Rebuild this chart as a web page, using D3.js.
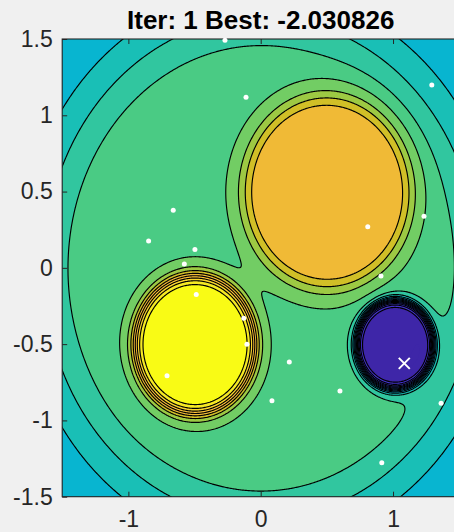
<!DOCTYPE html>
<html>
<head>
<meta charset="utf-8">
<script src="https://cdn.jsdelivr.net/npm/d3@7"></script>
<style>
  html, body { margin: 0; padding: 0; background: #f0f0f0; overflow: hidden; }
  svg { display: block; }
  text { font-family: "Liberation Sans", Arial, Helvetica, sans-serif; }
</style>
</head>
<body>
<svg id="chart" width="454" height="532"></svg>
<script>
// ---- iteration state ----
const iteration = 1;
const bestValue = -2.030826;
const bestPoint = [1.085, -0.626];

// population positions (white dots)
const popX = [-0.270, -0.111, 1.293, -0.661, -0.847, -0.497, -0.577, -0.487, 0.809, 1.234,
              0.909, -0.128, -0.104, -0.708, 0.216, 0.085, 0.599, 1.363, 0.915];
const popY = [1.491, 1.119, 1.198, 0.377, 0.176, 0.121, 0.025, -0.174, 0.269, 0.339,
              -0.054, -0.331, -0.501, -0.707, -0.617, -0.871, -0.808, -0.888, -1.277];

// objective landscape: a flat bowl plus three plateau wells (yellow, orange, blue)
const bowlLow = -0.3, bowlRise = 0.6, bowlRadius = 1.645, bowlWidth = 0.115;
const wellX = [-0.5, 0.5, 1.01];
const wellY = [-0.5, 0.5, -0.5];
const coreHeight = [1.40, 0.60, -2.40];
const coreRadius = [0.450, 0.612, 0.290];
const coreWidth = [0.0286, 0.035, 0.018];
const skirtHeight = [0.33, 0.25, -0.08];
const skirtRadius = [0.50, 0.744, 0.38];
const skirtWidth = [0.07, 0.045, 0.05];

// contour levels and colour limits
const levels = [-2.2, -2.0, -1.8, -1.6, -1.4, -1.2, -1.0, -0.8, -0.6, -0.4, -0.2,
                0.0, 0.2, 0.4, 0.6, 0.8, 1.0, 1.2, 1.4, 1.6, 1.8];
const cLim = [-2.2, 1.8];

// axis ticks
const xTicks = [-1, 0, 1];
const xTickLabels = ["-1", "0", "1"];
const yTicks = [-1.5, -1, -0.5, 0, 0.5, 1, 1.5];
const yTickLabels = ["-1.5", "-1", "-0.5", "0", "0.5", "1", "1.5"];

// parula colormap, 64 entries
const parula = [
[0.2422,0.1504,0.6603],[0.2504,0.1650,0.7076],[0.2578,0.1818,0.7511],[0.2647,0.1978,0.7952],
[0.2706,0.2147,0.8364],[0.2751,0.2342,0.8710],[0.2783,0.2559,0.8991],[0.2803,0.2782,0.9221],
[0.2813,0.3006,0.9414],[0.2810,0.3228,0.9579],[0.2795,0.3447,0.9717],[0.2760,0.3667,0.9829],
[0.2699,0.3892,0.9906],[0.2602,0.4123,0.9952],[0.2440,0.4358,0.9988],[0.2206,0.4603,0.9973],
[0.1963,0.4847,0.9892],[0.1834,0.5074,0.9798],[0.1786,0.5289,0.9682],[0.1764,0.5499,0.9520],
[0.1687,0.5703,0.9359],[0.1540,0.5902,0.9218],[0.1460,0.6091,0.9079],[0.1380,0.6276,0.8973],
[0.1248,0.6459,0.8883],[0.1113,0.6635,0.8763],[0.0952,0.6798,0.8598],[0.0689,0.6948,0.8394],
[0.0297,0.7082,0.8163],[0.0036,0.7203,0.7917],[0.0067,0.7312,0.7660],[0.0433,0.7411,0.7394],
[0.0964,0.7500,0.7120],[0.1408,0.7584,0.6842],[0.1717,0.7670,0.6554],[0.1938,0.7758,0.6251],
[0.2161,0.7843,0.5923],[0.2470,0.7918,0.5567],[0.2906,0.7973,0.5188],[0.3406,0.8008,0.4789],
[0.3909,0.8029,0.4354],[0.4456,0.8024,0.3909],[0.5044,0.7993,0.3480],[0.5616,0.7942,0.3045],
[0.6174,0.7876,0.2612],[0.6720,0.7793,0.2227],[0.7242,0.7698,0.1910],[0.7738,0.7598,0.1646],
[0.8203,0.7498,0.1535],[0.8634,0.7406,0.1596],[0.9035,0.7330,0.1774],[0.9393,0.7288,0.2100],
[0.9728,0.7298,0.2394],[0.9956,0.7434,0.2371],[0.9970,0.7659,0.2199],[0.9952,0.7893,0.2028],
[0.9892,0.8136,0.1885],[0.9786,0.8386,0.1766],[0.9676,0.8639,0.1643],[0.9610,0.8890,0.1537],
[0.9597,0.9135,0.1423],[0.9628,0.9373,0.1265],[0.9691,0.9606,0.1064],[0.9769,0.9839,0.0805]];

function levelColor(v) {
  let k = Math.floor((v - cLim[0]) / (cLim[1] - cLim[0]) * parula.length + 1e-9);
  k = Math.max(0, Math.min(parula.length - 1, k));
  const c = parula[k];
  return d3.rgb(c[0] * 255, c[1] * 255, c[2] * 255).formatHex();
}

const logistic = (d, h, r, w) => h / (1 + Math.exp((d - r) / w));

function surface(px, py) {
  let v = bowlLow + logistic(Math.hypot(px, py), bowlRise, bowlRadius, bowlWidth);
  for (let k = 0; k < wellX.length; k++) {
    const d = Math.hypot(px - wellX[k], py - wellY[k]);
    v += logistic(d, coreHeight[k], coreRadius[k], coreWidth[k]);
    v += logistic(d, skirtHeight[k], skirtRadius[k], skirtWidth[k]);
  }
  return v;
}

// ---- layout ----
const svg = d3.select("#chart");
svg.append("rect").attr("width", 454).attr("height", 532).attr("fill", "#f0f0f0");

const x = d3.scaleLinear().domain([-1.5, 1.5]).range([62.2, 459.2]);
const y = d3.scaleLinear().domain([-1.5, 1.5]).range([496.7, 39]);
const [px0, px1] = x.range();
const [py0, py1] = [y(1.5), y(-1.5)];

// ---- sample the surface on a grid slightly wider than the axes ----
const g0 = -1.56, g1 = 1.56, nx = 430, ny = 490;
const gdx = (g1 - g0) / (nx - 1), gdy = (g1 - g0) / (ny - 1);
const values = new Float64Array(nx * ny);
for (let j = 0; j < ny; j++) {
  const gy = g1 - j * gdy;
  for (let i = 0; i < nx; i++) values[j * nx + i] = surface(g0 + i * gdx, gy);
}

const contours = d3.contours().size([nx, ny]).thresholds(levels)(values);
const proj = d3.geoTransform({
  point(cx, cy) { this.stream.point(x(g0 + cx * gdx), y(g1 - cy * gdy)); }
});
const path = d3.geoPath(proj);

svg.append("defs").append("clipPath").attr("id", "plotClip")
  .append("rect").attr("x", px0).attr("y", py0).attr("width", px1 - px0).attr("height", py1 - py0);

const plot = svg.append("g").attr("clip-path", "url(#plotClip)");
// lowest band underneath everything
plot.append("rect").attr("x", px0).attr("y", py0)
  .attr("width", px1 - px0).attr("height", py1 - py0)
  .attr("fill", levelColor(levels[0]));
plot.append("g").selectAll("path").data(contours).join("path")
  .attr("d", path)
  .attr("fill", d => levelColor(d.value))
  .attr("stroke", "none");
plot.append("g").selectAll("path").data(contours.slice(1)).join("path")
  .attr("d", path)
  .attr("fill", "none")
  .attr("stroke", "#000")
  .attr("stroke-width", 1.15)
  .attr("stroke-linejoin", "round");

// ---- axes (inward ticks on all four sides) ----
function styleAxis(g) {
  g.select(".domain").remove();
  g.attr("font-family", null).attr("font-size", null);
  g.selectAll(".tick line").attr("stroke", "#262626");
  g.selectAll(".tick text").attr("fill", "#262626").style("font-size", "23px");
}
svg.append("g").attr("transform", `translate(0,${py1})`)
  .call(d3.axisBottom(x).tickValues(xTicks).tickFormat((d, i) => xTickLabels[i])
        .tickSizeInner(-5).tickSizeOuter(0).tickPadding(14))
  .call(styleAxis);
svg.append("g").attr("transform", `translate(0,${py0})`)
  .call(d3.axisTop(x).tickValues(xTicks).tickFormat("").tickSizeInner(-5).tickSizeOuter(0))
  .call(styleAxis);
svg.append("g").attr("transform", `translate(${px0},0)`)
  .call(d3.axisLeft(y).tickValues(yTicks).tickFormat((d, i) => yTickLabels[i])
        .tickSizeInner(-5).tickSizeOuter(0).tickPadding(9.5))
  .call(styleAxis);
svg.append("g").attr("transform", `translate(${px1},0)`)
  .call(d3.axisRight(y).tickValues(yTicks).tickFormat("").tickSizeInner(-5).tickSizeOuter(0))
  .call(styleAxis);

svg.append("rect").attr("x", px0).attr("y", py0)
  .attr("width", px1 - px0).attr("height", py1 - py0)
  .attr("fill", "none").attr("stroke", "#262626").attr("stroke-width", 1.1);

// ---- population and best particle ----
svg.append("g").selectAll("circle").data(popX).join("circle")
  .attr("cx", d => x(d)).attr("cy", (d, i) => y(popY[i]))
  .attr("r", 2.5).attr("fill", "#fff");

const bx = x(bestPoint[0]), by = y(bestPoint[1]), s = 5.5;
svg.append("path")
  .attr("d", `M${bx - s},${by - s}L${bx + s},${by + s}M${bx - s},${by + s}L${bx + s},${by - s}`)
  .attr("stroke", "#fff").attr("stroke-width", 2).attr("fill", "none");

// ---- title ----
svg.append("text")
  .attr("x", (px0 + px1) / 2).attr("y", 29.3)
  .attr("text-anchor", "middle")
  .style("font-size", "26px").style("font-weight", "bold").attr("fill", "#000")
  .text(`Iter: ${iteration} Best: ${bestValue.toFixed(6)}`);
</script>
</body>
</html>
